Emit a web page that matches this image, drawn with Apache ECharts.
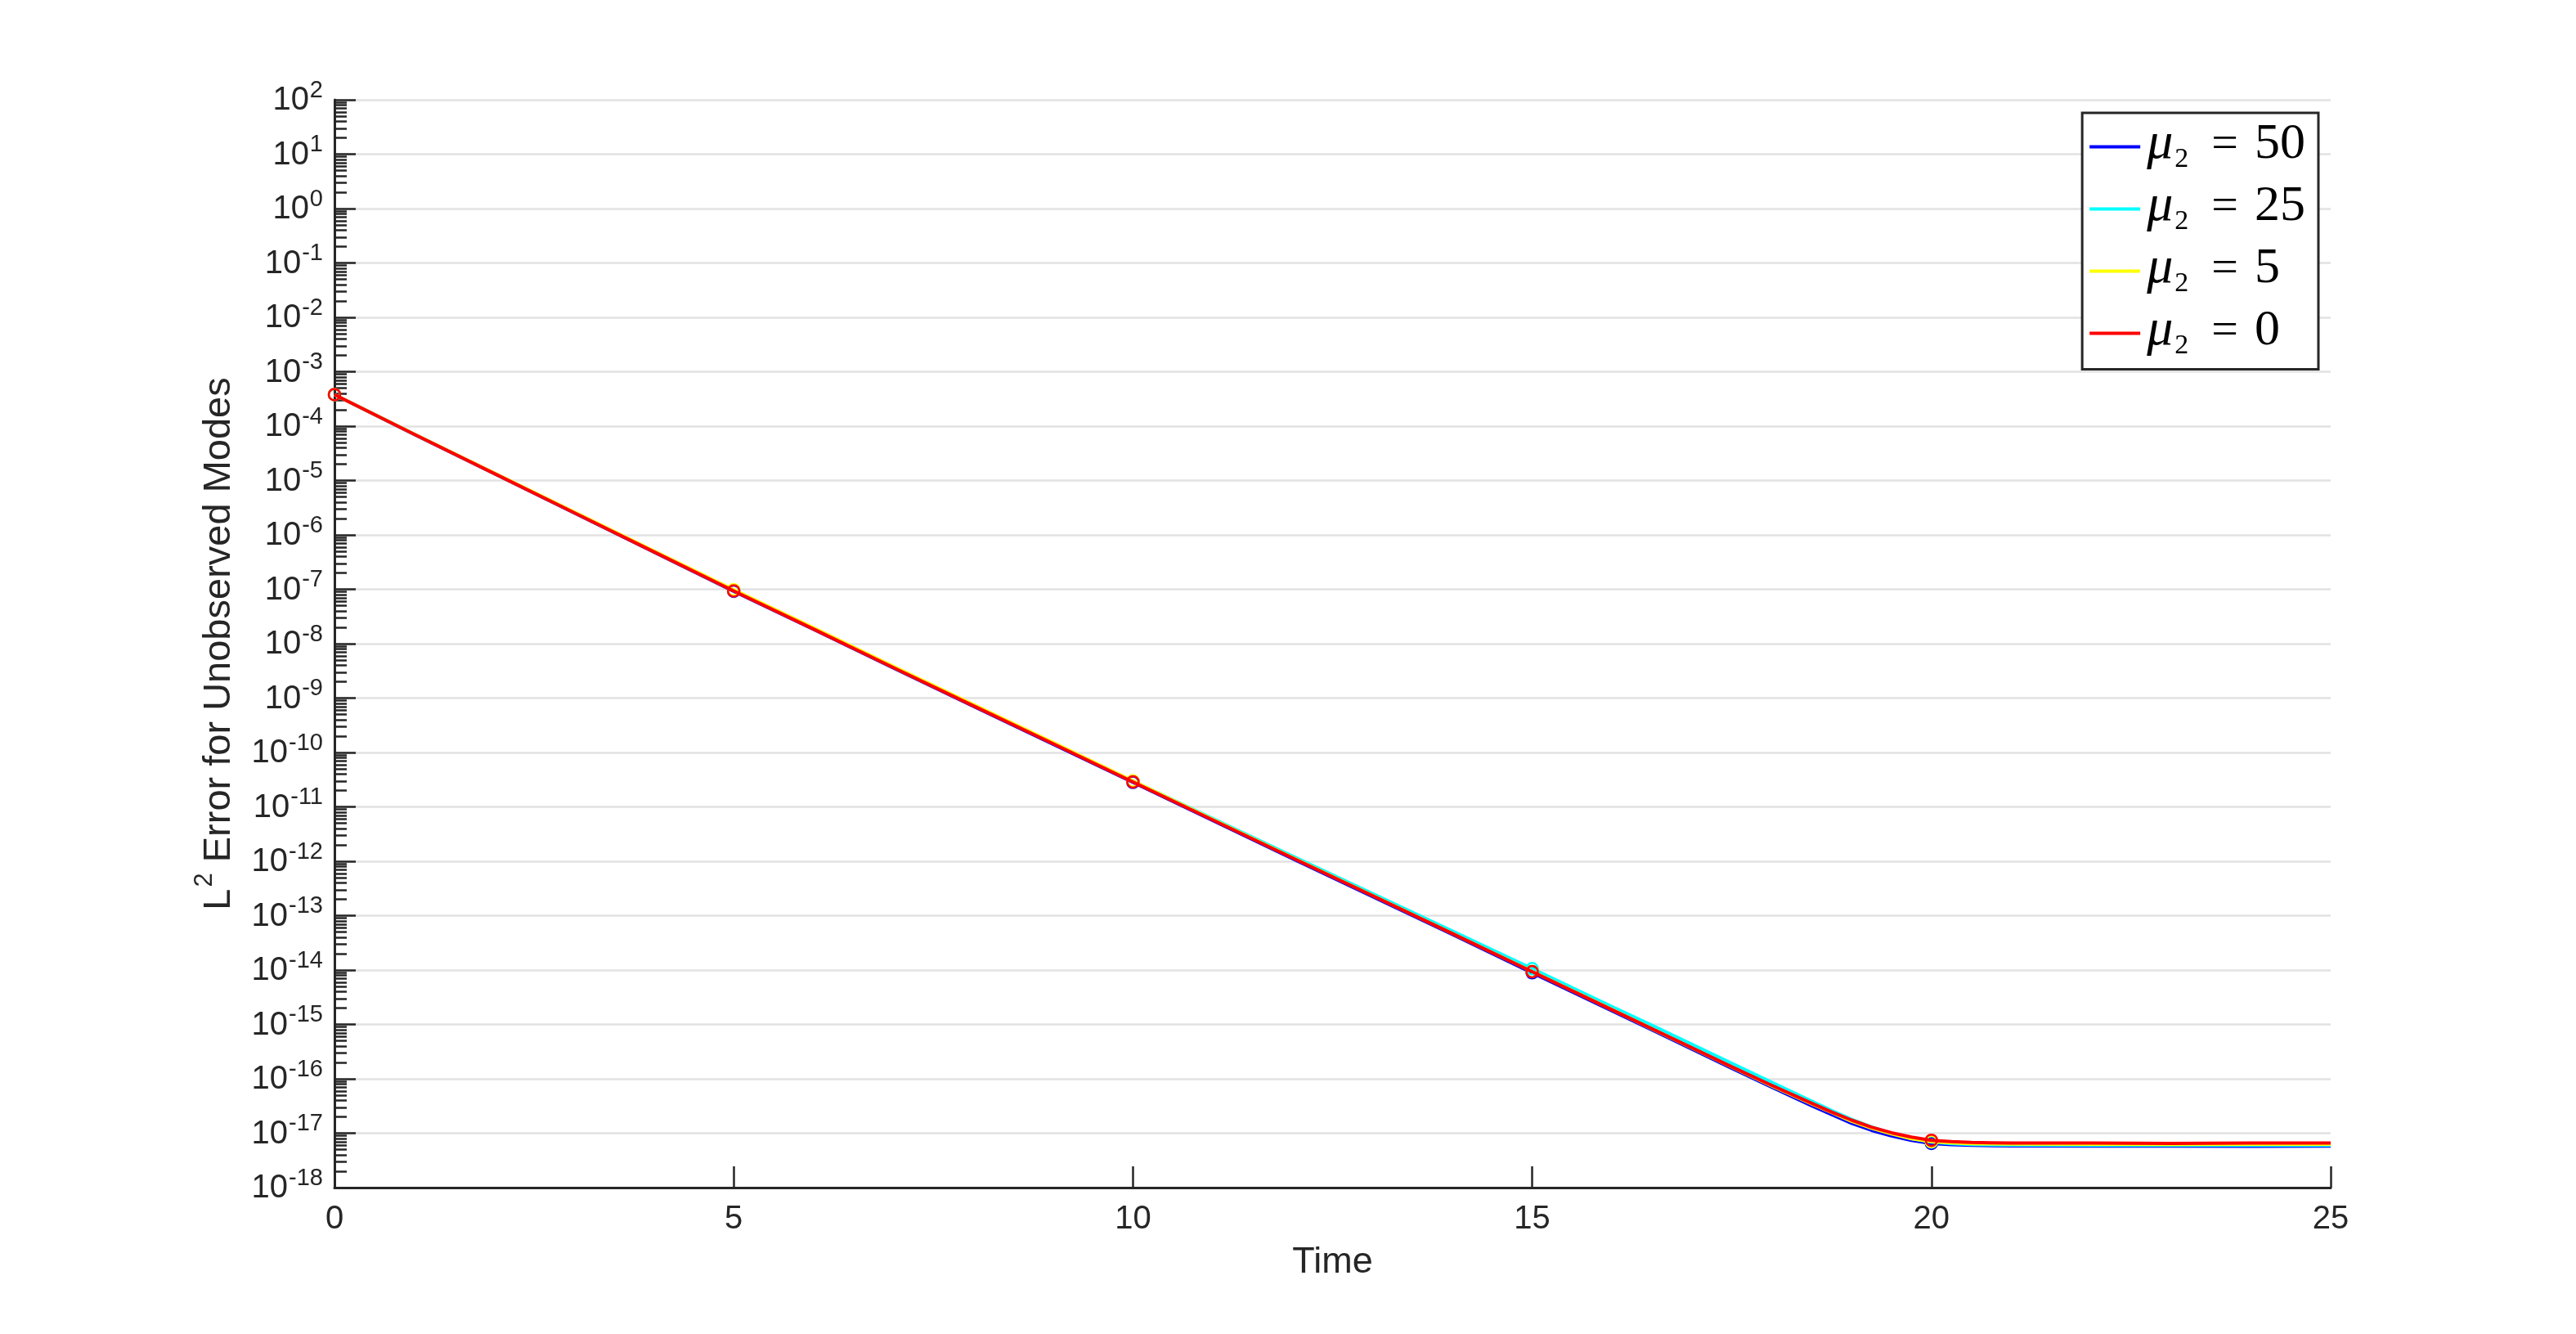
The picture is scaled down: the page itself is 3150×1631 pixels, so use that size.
<!DOCTYPE html>
<html>
<head>
<meta charset="utf-8">
<script src="https://cdn.jsdelivr.net/npm/echarts@6/dist/echarts.min.js"></script>
<style>
html,body{margin:0;padding:0;background:#fff;}
#chart{width:3150px;height:1631px;}
</style>
</head>
<body>
<div id="chart"></div>
<script>
// ---- data ----
var times = [0,1,2,3,4,5,6,7,8,9,10,11,12,13,14,15,16,16.5,17,17.5,18,18.5,18.75,19,19.25,19.5,19.75,20,20.25,20.5,20.75,21,22,23,24,25];
var markerTimes = [0,5,10,15,20];
var seriesNames = ['μ₂ = 50','μ₂ = 25','μ₂ = 5','μ₂ = 0'];
var seriesColors = ['#0000FF','#00FFFF','#FFFF00','#FF0000'];
var err_mu50 = [3.80e-4,7.0e-5,1.34e-5,2.55e-6,4.85e-7,9.2e-8,1.83e-8,3.58e-9,7.1e-10,1.42e-10,2.82e-11,5.6e-12,1.11e-12,2.25e-13,4.5e-14,8.9e-15,1.78e-15,7.9e-16,3.5e-16,1.56e-16,7.0e-17,3.2e-17,2.2e-17,1.52e-17,1.13e-17,8.9e-18,7.4e-18,6.5e-18,6.15e-18,6.0e-18,5.9e-18,5.85e-18,5.8e-18,5.8e-18,5.75e-18,5.8e-18];
var err_mu25 = [3.80e-4,7.1e-5,1.36e-5,2.6e-6,4.95e-7,9.4e-8,1.88e-8,3.68e-9,7.4e-10,1.49e-10,2.98e-11,6.1e-12,1.24e-12,2.55e-13,5.2e-14,1.06e-14,2.12e-15,9.6e-16,4.3e-16,1.92e-16,8.6e-17,3.9e-17,2.6e-17,1.8e-17,1.3e-17,1.0e-17,8.0e-18,6.9e-18,6.45e-18,6.2e-18,6.1e-18,6.05e-18,6.0e-18,6.0e-18,6.0e-18,6.0e-18];
var err_mu5  = [3.80e-4,7.15e-5,1.38e-5,2.65e-6,5.1e-7,9.8e-8,1.96e-8,3.82e-9,7.6e-10,1.52e-10,3.0e-11,5.9e-12,1.17e-12,2.36e-13,4.7e-14,9.4e-15,1.87e-15,8.3e-16,3.7e-16,1.64e-16,7.4e-17,3.45e-17,2.4e-17,1.66e-17,1.24e-17,9.7e-18,7.9e-18,7.0e-18,6.65e-18,6.45e-18,6.35e-18,6.3e-18,6.25e-18,6.2e-18,6.25e-18,6.25e-18];
var err_mu0  = [3.80e-4,7.08e-5,1.35e-5,2.57e-6,4.90e-7,9.33e-8,1.86e-8,3.63e-9,7.24e-10,1.45e-10,2.88e-11,5.75e-12,1.15e-12,2.34e-13,4.68e-14,9.33e-15,1.86e-15,8.32e-16,3.72e-16,1.66e-16,7.59e-17,3.55e-17,2.45e-17,1.74e-17,1.29e-17,1.02e-17,8.5e-18,7.41e-18,7.0e-18,6.76e-18,6.68e-18,6.61e-18,6.6e-18,6.5e-18,6.6e-18,6.6e-18];
var allSeries = [err_mu50, err_mu25, err_mu5, err_mu0];
var xTicks = {min:0, max:25, interval:5};
var yRange = {min:1e-18, max:1e2};

var axisColor = '#262626';
var sans = 'Liberation Sans, Arial, Helvetica, sans-serif';
var serif = 'Liberation Serif, Times New Roman, serif';

function pairs(arr){ return times.map(function(t,i){ return [t, arr[i]]; }); }

var series = allSeries.map(function(arr, k){
  var c = seriesColors[k];
  return {
    name: seriesNames[k],
    type: 'line',
    data: pairs(arr),
    showSymbol: true,
    showAllSymbol: true,
    symbol: function(v){ return markerTimes.indexOf(v[0]) >= 0 ? 'circle' : 'none'; },
    symbolSize: 14,
    lineStyle: {color: c, width: 4, join: 'round'},
    itemStyle: {color: 'rgba(0,0,0,0)', borderColor: c, borderWidth: 2.5},
    emphasis: {disabled: true},
    z: 2 + k
  };
});

var chart = echarts.init(document.getElementById('chart'), null, {renderer: 'canvas'});
chart.setOption({
  animation: false,
  backgroundColor: '#fff',
  grid: {left: 409, right: 300, top: 122, bottom: 179},
  legend: {
    orient: 'vertical',
    right: 315,
    top: 138,
    padding: [6, 16, 11, 9],
    backgroundColor: '#fff',
    borderColor: axisColor,
    borderWidth: 3,
    itemWidth: 62,
    itemHeight: 4,
    itemGap: 7.5,
    icon: 'rect',
    data: seriesNames.map(function(n, k){ return {name: n, itemStyle: {color: seriesColors[k], borderWidth: 0}}; }),
    formatter: function(name){
      var num = name.split('= ')[1];
      return '{mu|μ}{sub|2}{eq|=}{num|' + num + '}';
    },
    textStyle: {
      color: '#000',
      rich: {
        mu: {fontFamily: serif, fontStyle: 'italic', fontSize: 64, height: 40, lineHeight: 70, padding: [0,1,7,3], color: '#000'},
        sub: {fontFamily: serif, fontSize: 34, height: 30, lineHeight: 70, padding: [32,0,0,1], color: '#000'},
        eq: {fontFamily: serif, fontSize: 58, height: 40, lineHeight: 70, padding: [0,0,3,28], color: '#000'},
        num: {fontFamily: serif, fontSize: 62, height: 40, lineHeight: 70, padding: [0,0,5,20], color: '#000'}
      }
    }
  },
  xAxis: {
    type: 'value',
    min: xTicks.min, max: xTicks.max, interval: xTicks.interval,
    name: 'Time',
    nameLocation: 'middle',
    nameGap: 69,
    nameTextStyle: {fontFamily: sans, fontSize: 45, lineHeight: 46, color: axisColor},
    axisLine: {show: true, onZero: false, lineStyle: {color: axisColor, width: 3}},
    axisTick: {show: true, inside: true, length: 26, lineStyle: {color: axisColor, width: 2.5}},
    axisLabel: {fontFamily: sans, fontSize: 40, lineHeight: 42, color: axisColor, margin: 18},
    splitLine: {show: false}
  },
  yAxis: {
    type: 'log',
    logBase: 10,
    min: yRange.min, max: yRange.max,
    interval: 1,
    splitNumber: 20,
    name: '{b|L}{s|2}{b| Error for Unobserved Modes}',
    nameLocation: 'middle',
    nameRotate: 90,
    nameGap: 117,
    nameTextStyle: {
      color: axisColor,
      rich: {
        b: {fontFamily: sans, fontSize: 47, lineHeight: 48, verticalAlign: 'bottom', color: axisColor},
        s: {fontFamily: sans, fontSize: 31, lineHeight: 30, padding: [0,0,26,2], verticalAlign: 'bottom', color: axisColor}
      }
    },
    axisLine: {show: true, onZero: false, lineStyle: {color: axisColor, width: 3}},
    axisTick: {show: true, inside: true, length: 26, lineStyle: {color: axisColor, width: 2.5}},
    minorTick: {show: true, splitNumber: 9, length: 15, lineStyle: {color: axisColor, width: 2.5}},
    axisLabel: {
      margin: 14,
      formatter: function(v){
        var e = Math.round(Math.log10(v));
        return '{b|10}{s|' + e + '}';
      },
      rich: {
        b: {fontFamily: sans, fontSize: 40, lineHeight: 42, verticalAlign: 'bottom', color: axisColor},
        s: {fontFamily: sans, fontSize: 29, lineHeight: 40, padding: [0,0,18,1], verticalAlign: 'bottom', color: axisColor}
      }
    },
    splitLine: {show: true, lineStyle: {color: '#e2e2e2', width: 2.5}},
    minorSplitLine: {show: false}
  },
  series: series
});
</script>
</body>
</html>
